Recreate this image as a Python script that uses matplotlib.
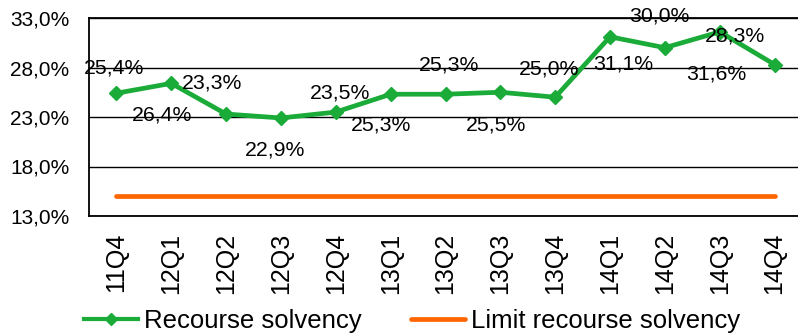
import numpy as np
import matplotlib
matplotlib.use('Agg')
import matplotlib.pyplot as plt
from matplotlib.lines import Line2D

plt.rcParams['font.family'] = ['Liberation Sans', 'DejaVu Sans']

quarters = ['11Q4', '12Q1', '12Q2', '12Q3', '12Q4', '13Q1', '13Q2',
            '13Q3', '13Q4', '14Q1', '14Q2', '14Q3', '14Q4']
solvency = [25.4, 26.4, 23.3, 22.9, 23.5, 25.3, 25.3, 25.5, 25.0, 31.1, 30.0, 31.6, 28.3]
limit = [15.0] * len(quarters)
yticks = [13, 18, 23, 28, 33]

# label offsets in pixels (dx, dy), as placed in the original
label_offsets = [(-2, 25), (-9, -32), (-14, 31), (-6, -32), (4, 19), (-10, -31), (4, 29),
                 (-4, -33), (-6, 28), (13, -27), (-6, 32), (-3, -42), (-40, 29)]

green = '#1aab38'
orange = '#ff6600'

fig = plt.figure(figsize=(7.98, 3.35), dpi=100)
ax = fig.add_axes([89/798, 119/335, 713/798, 198/335])

x = np.arange(len(quarters))
ax.plot(x, limit, color=orange, linewidth=3.4, solid_capstyle='round', zorder=3)
ax.plot(x, solvency, color=green, linewidth=3.4, marker='D', markersize=7.5, zorder=4)

def fmt(v):
    return ('%.1f%%' % v).replace('.', ',')

for i, v in enumerate(solvency):
    dx, dy = label_offsets[i]
    ax.annotate(fmt(v), (x[i], v), xytext=(dx * 0.72, dy * 0.72), textcoords='offset points',
                ha='center', va='center', fontsize=15.3, color='black', zorder=5)

ax.set_xlim(-0.5, len(quarters) - 0.5)
ax.set_ylim(13, 33)
ax.set_yticks(yticks)
ax.set_yticklabels([fmt(v) for v in yticks], fontsize=15)
ax.set_xticks(x)
ax.set_xticklabels(quarters, rotation=90, fontsize=18)
ax.tick_params(axis='both', length=0)
ax.tick_params(axis='y', pad=14)
ax.tick_params(axis='x', pad=12)
ax.grid(axis='y', color='black', linewidth=1)
ax.set_axisbelow(True)
for s in ['left', 'bottom', 'top']:
    ax.spines[s].set_color('black')
    ax.spines[s].set_linewidth(1.3)
ax.spines['right'].set_visible(False)

handles = [Line2D([], [], color=green, linewidth=3, marker='D', markersize=6),
           Line2D([], [], color=orange, linewidth=3.4, solid_capstyle='round')]
fig.legend(handles, ['Recourse solvency', 'Limit recourse solvency'], loc='center',
           bbox_to_anchor=(412/798, 14/335), ncol=2, frameon=False, fontsize=18.5,
           handlelength=2.1, handletextpad=0.23, columnspacing=1.95, borderpad=0)

fig.savefig('out.png', dpi=100)
